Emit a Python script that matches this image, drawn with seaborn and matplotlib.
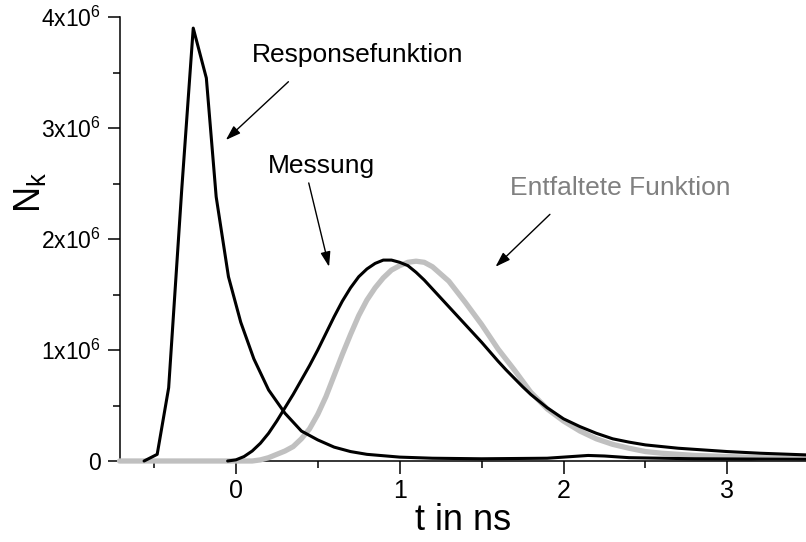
import numpy as np
import pandas as pd
import matplotlib
matplotlib.use("Agg")
import matplotlib.pyplot as plt
from matplotlib.ticker import MultipleLocator
import seaborn as sns

# ---------------- data (N in units of 1e6) ----------------
t_resp = [-0.56, -0.48, -0.41, -0.33, -0.26, -0.18, -0.12, -0.045, 0.03, 0.11,
          0.2, 0.3, 0.4, 0.5, 0.6, 0.7, 0.8, 1.0, 1.2, 1.5, 1.9, 2.05, 2.15,
          2.25, 2.4, 2.8, 3.48]
n_resp = [0.0, 0.06, 0.66, 2.45, 3.90, 3.45, 2.38, 1.66, 1.25, 0.92,
          0.64, 0.43, 0.27, 0.19, 0.125, 0.085, 0.06, 0.035, 0.025, 0.02, 0.025,
          0.04, 0.05, 0.045, 0.03, 0.02, 0.015]

t_mess = [-0.05, 0.0, 0.05, 0.1, 0.15, 0.2, 0.25, 0.3, 0.35, 0.4, 0.45, 0.5,
          0.55, 0.6, 0.65, 0.7, 0.75, 0.8, 0.85, 0.9, 0.95, 1.0, 1.05, 1.1,
          1.15, 1.2, 1.3, 1.4, 1.5, 1.6, 1.65, 1.7, 1.75, 1.8, 1.9, 2.0, 2.1,
          2.2, 2.3, 2.4, 2.5, 2.6, 2.7, 2.8, 2.9, 3.0, 3.2, 3.48]
n_mess = [0.0, 0.01, 0.04, 0.09, 0.16, 0.25, 0.36, 0.48, 0.60, 0.73, 0.86, 1.00,
          1.15, 1.30, 1.44, 1.56, 1.66, 1.73, 1.78, 1.81, 1.81, 1.79, 1.76, 1.70,
          1.63, 1.55, 1.39, 1.23, 1.07, 0.90, 0.82, 0.745, 0.67, 0.60, 0.48, 0.38, 0.31,
          0.25, 0.20, 0.17, 0.145, 0.13, 0.115, 0.105, 0.095, 0.085, 0.07, 0.055]

t_entf = [-0.71, 0.1, 0.15, 0.2, 0.25, 0.3, 0.35, 0.4, 0.45, 0.5, 0.55, 0.6,
          0.65, 0.7, 0.75, 0.8, 0.85, 0.9, 0.95, 1.0, 1.05, 1.1, 1.15, 1.2,
          1.3, 1.4, 1.5, 1.6, 1.7, 1.8, 1.9, 2.0, 2.1, 2.2, 2.3, 2.4, 2.5,
          2.6, 2.8, 3.0, 3.2, 3.48]
n_entf = [0.0, 0.0, 0.01, 0.03, 0.06, 0.09, 0.13, 0.20, 0.29, 0.42, 0.58, 0.77,
          0.96, 1.14, 1.31, 1.45, 1.56, 1.65, 1.72, 1.76, 1.79, 1.80, 1.79, 1.75,
          1.62, 1.43, 1.23, 1.01, 0.82, 0.62, 0.47, 0.36, 0.27, 0.20, 0.15, 0.115, 0.085,
          0.07, 0.05, 0.04, 0.03, 0.024]

x_ticks = [0, 1, 2, 3]
x_ticklabels = ["0", "1", "2", "3"]
y_ticks = [0, 1e6, 2e6, 3e6, 4e6]
y_ticklabels = ["0", r"$\mathrm{1x10}^{6}$", r"$\mathrm{2x10}^{6}$",
                r"$\mathrm{3x10}^{6}$", r"$\mathrm{4x10}^{6}$"]

# ---------------- style ----------------
sns.set_style("ticks")
plt.rcParams['font.family'] = ['Liberation Sans', 'DejaVu Sans']
plt.rcParams['mathtext.fontset'] = 'custom'
plt.rcParams['mathtext.rm'] = 'Liberation Sans'
plt.rcParams['mathtext.it'] = 'Liberation Sans:italic'
plt.rcParams['mathtext.bf'] = 'Liberation Sans:bold'
plt.rcParams['text.color'] = 'black'
plt.rcParams['axes.labelcolor'] = 'black'
plt.rcParams['xtick.color'] = 'black'
plt.rcParams['ytick.color'] = 'black'

fig = plt.figure(figsize=(8.06, 5.42), dpi=100)
ax = fig.add_axes([120 / 806, 1 - 461 / 542, 686 / 806, 444 / 542])

df_entf = pd.DataFrame({"t": t_entf, "N": np.array(n_entf) * 1e6})
df_resp = pd.DataFrame({"t": t_resp, "N": np.array(n_resp) * 1e6})
df_mess = pd.DataFrame({"t": t_mess, "N": np.array(n_mess) * 1e6})

sns.lineplot(data=df_entf, x="t", y="N", ax=ax, color="#c0c0c0", lw=3.8,
             estimator=None, sort=False, zorder=3, clip_on=False)
sns.lineplot(data=df_resp, x="t", y="N", ax=ax, color="black", lw=2.2,
             estimator=None, sort=False, zorder=4, clip_on=False)
sns.lineplot(data=df_mess, x="t", y="N", ax=ax, color="black", lw=2.2,
             estimator=None, sort=False, zorder=4, clip_on=False)

ax.set_xlim(-0.707, 3.48)
ax.set_ylim(0, 4e6)
ax.set_xticks(x_ticks, x_ticklabels)
ax.set_yticks(y_ticks, y_ticklabels)
ax.xaxis.set_minor_locator(MultipleLocator(0.5))
ax.yaxis.set_minor_locator(MultipleLocator(0.5e6))
sns.despine(ax=ax)
for s in ("left", "bottom"):
    ax.spines[s].set_linewidth(1.1)
    ax.spines[s].set_color("black")
ax.tick_params(axis="both", which="major", direction="out", length=9,
               width=1.1, color="black", labelcolor="black")
ax.tick_params(axis="both", which="minor", direction="out", length=5,
               width=1.1, color="black")
ax.tick_params(axis="x", which="major", labelsize=18, pad=4)
ax.tick_params(axis="y", which="major", labelsize=16.5, pad=5)

ax.set_xlabel("t in ns", fontsize=26, labelpad=0, color="black")
ax.set_ylabel("")
fig.text(30 / 806, 1 - 192 / 542, r"N$_\mathrm{k}$", rotation=90,
         ha="center", va="center", fontsize=26, color="black")

arrow = dict(arrowstyle="-|>,head_length=0.9,head_width=0.3", lw=1,
             color="black", shrinkA=0, shrinkB=0)

ax.text(0.744, 3.595e6, "Responsefunktion", ha="center", va="baseline",
        fontsize=19, color="black")
ax.annotate("", xy=(-0.061, 2.892e6), xytext=(0.321, 3.417e6),
            arrowprops=arrow)

ax.text(0.524, 2.592e6, "Messung", ha="center", va="baseline", fontsize=19,
        color="black")
ax.annotate("", xy=(0.569, 1.75e6), xytext=(0.445, 2.505e6),
            arrowprops=arrow)

ax.text(2.348, 2.396e6, "Entfaltete Funktion", ha="center", va="baseline",
        fontsize=19, color="#808080")
ax.annotate("", xy=(1.585, 1.75e6), xytext=(1.917, 2.222e6),
            arrowprops=arrow)

fig.savefig("out.png", dpi=100)
